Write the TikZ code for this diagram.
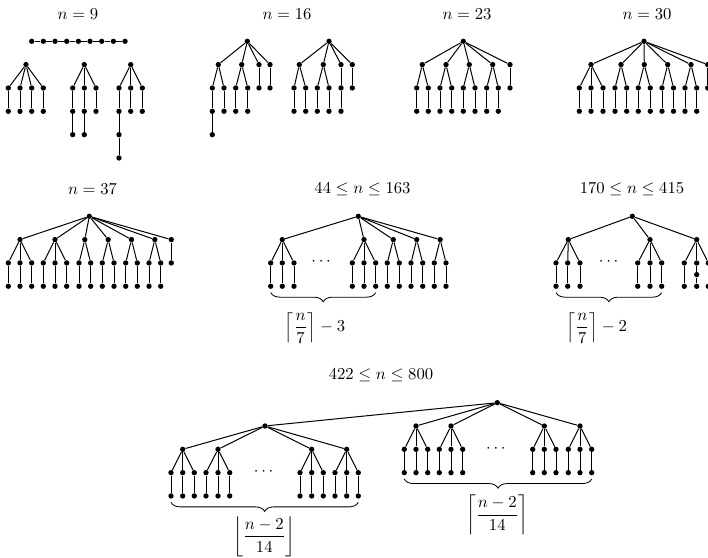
\documentclass[tikz,border=0pt]{standalone}
\usepackage{amsmath}
\usepackage{tikz}
\usetikzlibrary{decorations.pathreplacing}
\tikzset{
  vert/.style={circle, fill=black, inner sep=0pt, minimum size=3.2pt},
  link/.style={line width=0.6pt, color=black},
  sizebrace/.style={decorate, decoration={brace, mirror, amplitude=5.5pt},
    line width=0.5pt},
  caselabel/.style={font=\normalsize},
  countlabel/.style={font=\normalsize}
}
% chain of vertices hanging below a parent: [count]{parent}{name}{x}{y of first}
\newcommand{\twig}[5][2]{%
  \foreach \k [remember=\k as \prev (initially 0)] in {1,...,#1} {
    \node[vert] (#3-\k) at (#4,#5+23.33*\k-23.33) {};
    \ifnum\k=1\relax \draw[link] (#2) -- (#3-\k);
    \else \draw[link] (#3-\prev) -- (#3-\k); \fi
  }%
}
% vertex with a row of twigs below it: {parent}{name}{x}{y}{x of twigs}
\newcommand{\bough}[5]{%
  \node[vert] (#2) at (#3,#4) {};
  \draw[link] (#1) -- (#2);
  \foreach \cx [count=\ci] in {#5} {\twig{#2}{#2-\ci}{\cx}{#4+23.33}}%
}

\begin{document}
\begin{tikzpicture}[x=0.6pt, y=-0.6pt]
  \useasboundingbox (0,0) rectangle (708,558);
  \clip (0,0) rectangle (708,558);

  % n = 9
  \node[caselabel] (c9) at (78,14) {$n = 9$};
  \foreach \i in {0,...,8} \node[vert] (p\i) at (31.7+11.67*\i,41.3) {};
  \foreach \i [remember=\i as \j (initially 0)] in {1,...,8} \draw[link] (p\j) -- (p\i);
  \node[vert] (ua) at (26,64.6) {};
  \foreach \x [count=\i] in {8.3,20,31.7,43.3} {\twig{ua}{ua-\i}{\x}{88}}
  \node[vert] (ub) at (84.3,64.6) {};
  \twig[3]{ub}{ub-1}{72.7}{88}
  \twig[3]{ub}{ub-2}{84.3}{88}
  \twig{ub}{ub-3}{96}{88}
  \node[vert] (uc) at (130.7,64.6) {};
  \twig[4]{uc}{uc-1}{119}{88}
  \twig{uc}{uc-2}{130.7}{88}
  \twig{uc}{uc-3}{142.3}{88}

  % n = 16
  \node[caselabel] (c16) at (287,14) {$n = 16$};
  \node[vert] (va) at (247.3,41.3) {};
  \bough{va}{va-1}{218.3}{64.6}{224}
  \twig[3]{va-1}{va-1-0}{212.3}{88}
  \bough{va}{va-2}{241.7}{64.6}{235.7,247.7}
  \twig{va}{va-3}{259}{64.6}
  \twig{va}{va-4}{270}{64.6}
  \node[vert] (vb) at (329,41.3) {};
  \bough{vb}{vb-1}{299.3}{64.6}{294,305.7}
  \bough{vb}{vb-2}{323.3}{64.6}{317.3,329}
  \twig[3]{vb}{vb-3}{341}{64.6}
  \twig{vb}{vb-4}{352.3}{64.6}

  % n = 23
  \node[caselabel] (c23) at (467,14) {$n = 23$};
  \node[vert] (w) at (463.3,41.3) {};
  \bough{w}{w-1}{422.3}{64.6}{416.7,428.3}
  \bough{w}{w-2}{446}{64.6}{440,451.7}
  \bough{w}{w-3}{469.3}{64.6}{463.3,475}
  \bough{w}{w-4}{492.7}{64.6}{486.7,498.3}
  \twig{w}{w-5}{510}{64.6}

  % n = 30
  \node[caselabel] (c30) at (647,14) {$n = 30$};
  \node[vert] (q) at (644,41.3) {};
  \bough{q}{q-1}{591}{64.6}{579.3,591,603}
  \bough{q}{q-2}{621}{64.6}{615,626.7}
  \bough{q}{q-3}{644.3}{64.6}{638.3,650.3}
  \bough{q}{q-4}{667.7}{64.6}{662,673.5}
  \bough{q}{q-5}{691}{64.6}{685,696.7}
  \twig{q}{q-6}{707.7}{64.6}

  % n = 37
  \node[caselabel] (c37) at (92.5,189) {$n = 37$};
  \node[vert] (r) at (89.3,216.3) {};
  \bough{r}{r-1}{20}{239.6}{8.3,20,31.7}
  \bough{r}{r-2}{55}{239.6}{43.3,55,66.7}
  \bough{r}{r-3}{84.8}{239.6}{79,90.7}
  \bough{r}{r-4}{108.2}{239.6}{102.3,114}
  \bough{r}{r-5}{131.5}{239.6}{125.7,137.3}
  \bough{r}{r-6}{154.8}{239.6}{149,160.7}
  \twig{r}{r-7}{171.3}{239.6}

  % 44 <= n <= 163
  \node[caselabel] (c44) at (362.5,189) {$44 \le n \le 163$};
  \node[vert] (s) at (358.3,216.3) {};
  \bough{s}{s-1}{282.3}{239.6}{270.7,282.3,294}
  \node (s-dots) at (322.5,262) {$\cdots$};
  \bough{s}{s-2}{364}{239.6}{352.3,364,375.7}
  \bough{s}{s-3}{393.3}{239.6}{387.3,399.3}
  \bough{s}{s-4}{416.7}{239.6}{411,422.7}
  \bough{s}{s-5}{440.2}{239.6}{434.3,446}
  \draw[sizebrace] ([yshift=-2pt]s-1-1-2.south) -- ([yshift=-2pt]s-2-3-2.south);
  \node[countlabel] (s-count) at (315,328)
    {$\displaystyle\left\lceil\frac{n}{7}\right\rceil - 3$};

  % 170 <= n <= 415
  \node[caselabel] (c170) at (632,189) {$170 \le n \le 415$};
  \node[vert] (z) at (632.3,216.3) {};
  \bough{z}{z-1}{568.3}{239.6}{556,567.7,580}
  \node (z-dots) at (610,262) {$\cdots$};
  \bough{z}{z-2}{650}{239.6}{637.7,650,661.7}
  \node[vert] (z-3) at (696.7,239.6) {};
  \draw[link] (z) -- (z-3);
  \twig{z-3}{z-3-1}{684.3}{263}
  \node[vert] (z-3-2-1) at (696.7,263) {};
  \node[vert] (z-3-2-2) at (696.7,274.6) {};
  \node[vert] (z-3-2-3) at (696.7,286.3) {};
  \draw[link] (z-3) -- (z-3-2-1) -- (z-3-2-2) -- (z-3-2-3);
  \twig{z-3}{z-3-3}{708.3}{263}
  \draw[sizebrace] ([yshift=-2pt]z-1-1-2.south) -- ([yshift=-2pt]z-2-3-2.south);
  \node[countlabel] (z-count) at (596.7,328)
    {$\displaystyle\left\lceil\frac{n}{7}\right\rceil - 2$};

  % 422 <= n <= 800
  \node[caselabel] (c422) at (381,375) {$422 \le n \le 800$};
  \node[vert] (m) at (497.3,402.7) {};
  \node[vert] (l) at (265,426) {};
  \draw[link] (m) -- (l);
  \bough{l}{l-1}{182.7}{449.3}{171,182.7,194.3}
  \bough{l}{l-2}{218}{449.3}{206,218,229.7}
  \node (l-dots) at (265,472) {$\cdots$};
  \bough{l}{l-3}{311.7}{449.3}{300,311.7,323.3}
  \bough{l}{l-4}{346.7}{449.3}{335,346.7,358.3}
  \bough{m}{m-1}{416}{426}{404.3,416,427.7}
  \bough{m}{m-2}{451}{426}{439.3,451,462.7}
  \node (m-dots) at (497.3,449) {$\cdots$};
  \bough{m}{m-3}{544.3}{426}{532.7,544.3,556}
  \bough{m}{m-4}{580}{426}{568.3,580,591.7}
  \draw[sizebrace] ([yshift=-2pt]l-1-1-2.south) -- ([yshift=-2pt]l-4-3-2.south);
  \draw[sizebrace] ([yshift=-2pt]m-1-1-2.south) -- ([yshift=-2pt]m-4-3-2.south);
  \node[countlabel] (l-count) at (264.3,536.7)
    {$\displaystyle\left\lfloor\frac{n-2}{14}\right\rfloor$};
  \node[countlabel] (m-count) at (497.3,515)
    {$\displaystyle\left\lceil\frac{n-2}{14}\right\rceil$};
\end{tikzpicture}
\end{document}
